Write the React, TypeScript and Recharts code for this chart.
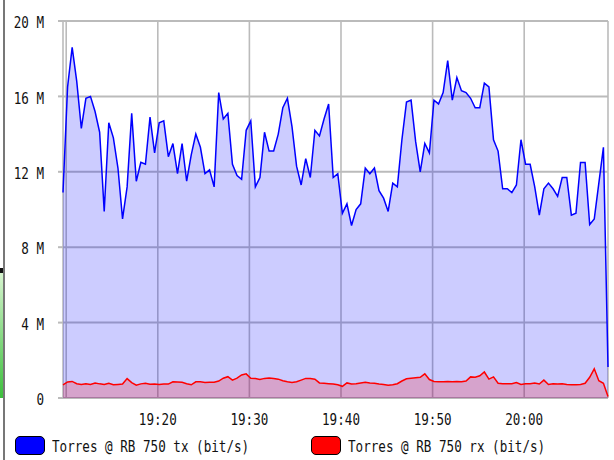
import React from 'react';
import { AreaChart, Area, XAxis, YAxis, CartesianGrid } from 'recharts';

// samples every 30 s, first one at 19:09:39 (minutes after 19:00)
const START_MIN = 9.65;
const STEP_MIN = 0.5;

// Torres @ RB 750, Mbit/s
const TX_MBPS = [
  10.9, 16.5, 18.6, 16.8, 14.3, 15.9, 16.0, 15.2, 14.1, 9.9,
  14.6, 13.8, 12.2, 9.5, 11.2, 15.1, 11.5, 12.5, 12.4, 14.9,
  13.0, 14.6, 14.7, 12.8, 13.5, 11.9, 13.5, 11.5, 12.9, 14.0,
  13.3, 11.9, 12.1, 11.2, 16.2, 14.8, 15.1, 12.4, 11.8, 11.6,
  14.2, 14.7, 11.2, 11.7, 14.1, 13.1, 13.1, 14.0, 15.4, 15.9,
  14.4, 12.3, 11.3, 12.7, 11.7, 14.2, 13.9, 14.8, 15.6, 11.7,
  11.9, 9.8, 10.3, 9.15, 10.0, 10.3, 12.2, 11.9, 12.2, 11.0,
  10.6, 9.9, 11.4, 11.2, 13.7, 15.7, 15.8, 13.6, 12.0, 13.5,
  13.0, 15.8, 15.6, 16.2, 17.9, 15.8, 17.0, 16.3, 16.2, 15.9,
  15.4, 15.4, 16.7, 16.5, 13.7, 13.1, 11.1, 11.1, 10.9, 11.3,
  13.7, 12.4, 12.4, 11.2, 9.7, 11.1, 11.4, 11.1, 10.7, 11.7,
  11.7, 9.7, 9.8, 12.5, 12.5, 9.2, 9.5, 11.4, 13.3, 1.65,
];

const RX_MBPS = [
  0.70, 0.85, 0.88, 0.76, 0.72, 0.75, 0.72, 0.80, 0.75, 0.72,
  0.78, 0.70, 0.72, 0.74, 1.03, 0.82, 0.68, 0.75, 0.78, 0.73,
  0.74, 0.72, 0.74, 0.74, 0.86, 0.85, 0.83, 0.76, 0.70, 0.86,
  0.86, 0.82, 0.84, 0.84, 0.90, 1.05, 1.13, 0.95, 1.05, 1.22,
  1.28, 1.05, 1.03, 0.98, 1.04, 1.06, 1.04, 1.00, 0.92, 0.86,
  0.82, 0.86, 0.95, 1.04, 1.04, 1.00, 0.80, 0.78, 0.76, 0.74,
  0.70, 0.62, 0.80, 0.74, 0.76, 0.80, 0.84, 0.80, 0.78, 0.74,
  0.72, 0.68, 0.70, 0.76, 0.90, 1.02, 1.05, 1.08, 1.10, 1.28,
  0.98, 0.88, 0.86, 0.86, 0.88, 0.86, 0.88, 0.86, 0.90, 1.12,
  1.10, 1.18, 1.38, 1.00, 1.12, 0.78, 0.76, 0.76, 0.76, 0.82,
  0.72, 0.76, 0.76, 0.80, 0.74, 0.95, 0.72, 0.76, 0.74, 0.76,
  0.72, 0.70, 0.70, 0.72, 0.78, 1.10, 1.55, 0.92, 0.78, 0.08,
];

const Y_TICKS = [0, 4, 8, 12, 16, 20];
const X_TICKS = [10, 20, 30, 40, 50, 60];
const X_LABELS = ['', '19:20', '19:30', '19:40', '19:50', '20:00'];

const TX_NAME = 'Torres @ RB 750 tx (bit/s)';
const RX_NAME = 'Torres @ RB 750 rx (bit/s)';

const FONT = '"DejaVu Sans Mono", monospace';
const FONT_SIZE = 12.6;
const STRETCH = 1.3;

const data = TX_MBPS.map((tx, i) => ({
  t: START_MIN + i * STEP_MIN,
  tx,
  rx: RX_MBPS[i],
}));

const fmtY = (v: number) => (v === 0 ? '0' : `${v} M`);

function YTick({ x, y, payload }: any) {
  return (
    <g transform={`translate(${x},${y + 1.3}) scale(1,${STRETCH})`}>
      <text x={0} y={0} dy="0.36em" textAnchor="end" fontFamily={FONT} fontSize={FONT_SIZE} fill="#111">
        {fmtY(payload.value)}
      </text>
    </g>
  );
}

function XTick({ x, y, payload }: any) {
  const label = X_LABELS[X_TICKS.indexOf(payload.value)];
  if (!label) return null;
  return (
    <g transform={`translate(${x},${y}) scale(1,${STRETCH})`}>
      <text x={0} y={0} dy="0.36em" textAnchor="middle" fontFamily={FONT} fontSize={FONT_SIZE} fill="#111">
        {label}
      </text>
    </g>
  );
}

function LegendItem({ left, color, name }: { left: number; color: string; name: string }) {
  return (
    <>
      <div
        style={{
          position: 'absolute', left, top: 436, width: 28, height: 17,
          background: color, border: '1px solid #000', borderRadius: 5,
        }}
      />
      <div
        style={{
          position: 'absolute', left: left + 37, top: 437, height: 19, lineHeight: '19px',
          fontFamily: FONT, fontSize: FONT_SIZE, color: '#111', whiteSpace: 'pre',
          transform: `scaleY(${STRETCH})`, transformOrigin: 'center',
        }}
      >
        {name}
      </div>
    </>
  );
}

export default function App() {
  return (
    <div style={{ position: 'absolute', left: 0, top: 0, width: 614, height: 460, background: '#fff', overflow: 'hidden' }}>
      {/* bits of the surrounding page at the left edge */}
      <div style={{ position: 'absolute', left: 3, top: 0, width: 1.5, height: 460, background: '#777' }} />
      <div style={{ position: 'absolute', left: 0, top: 272, width: 3, height: 126, background: 'linear-gradient(#d8f5d0, #3cbf3c)' }} />
      <div style={{ position: 'absolute', left: 0, top: 268, width: 3, height: 5, background: '#111' }} />

      <AreaChart width={614} height={460} data={data} margin={{ top: 21, right: 6, bottom: 32, left: 0 }}>
        <CartesianGrid vertical={false} stroke="#bbb" strokeWidth={2} />
        <CartesianGrid horizontal={false} stroke="#bbb" strokeWidth={1.6} />
        <XAxis
          dataKey="t"
          type="number"
          domain={[START_MIN, START_MIN + STEP_MIN * (TX_MBPS.length - 1)]}
          ticks={X_TICKS}
          interval={0}
          height={30}
          axisLine={false}
          tickLine={false}
          tickSize={0}
          tickMargin={21}
          tick={<XTick />}
        />
        <YAxis
          type="number"
          domain={[0, 20]}
          ticks={Y_TICKS}
          interval={0}
          width={63}
          axisLine={false}
          tickSize={5}
          tickMargin={14}
          tickLine={{ stroke: '#bbb', strokeWidth: 2 }}
          tick={<YTick />}
        />
        <Area
          type="linear"
          dataKey="tx"
          name={TX_NAME}
          stroke="#0000ff"
          strokeWidth={1.5}
          fill="#0000ff"
          fillOpacity={0.2}
          dot={false}
          activeDot={false}
          isAnimationActive={false}
        />
        <Area
          type="linear"
          dataKey="rx"
          name={RX_NAME}
          stroke="#ff0000"
          strokeWidth={1.5}
          fill="#ff0000"
          fillOpacity={0.2}
          dot={false}
          activeDot={false}
          isAnimationActive={false}
        />
      </AreaChart>

      <LegendItem left={15} color="#0000ff" name={TX_NAME} />
      <LegendItem left={311} color="#ff0000" name={RX_NAME} />
    </div>
  );
}
